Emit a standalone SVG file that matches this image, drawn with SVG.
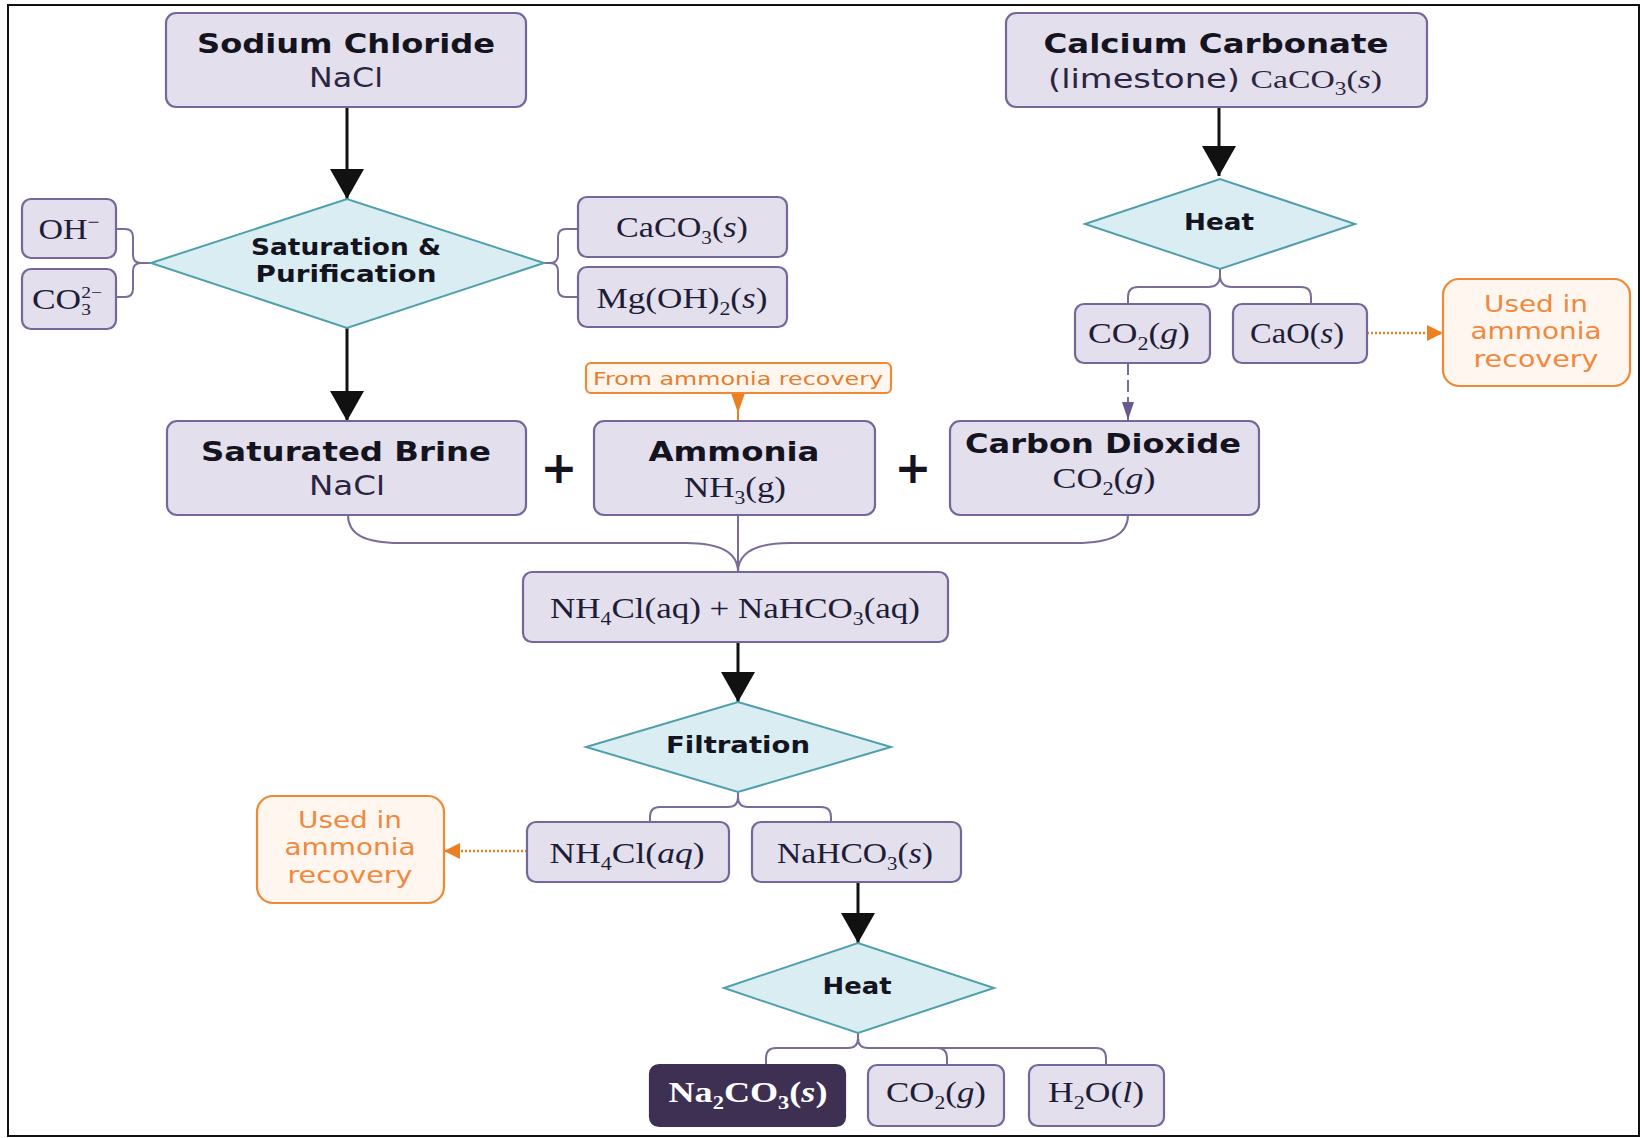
<svg xmlns="http://www.w3.org/2000/svg" width="1642" height="1138" viewBox="0 0 1642 1138">
<style>
.node{fill:#e3dfec;stroke:#76679a;stroke-width:2.2}
.dark{fill:#3e3053;stroke:#3e3053;stroke-width:2.2}
.dia{fill:#daedf2;stroke:#4fa0ad;stroke-width:2}
.orng{fill:#fff6ef;stroke:#ee8a36;stroke-width:2.2}
.ttl{font-family:"DejaVu Sans",Verdana,sans-serif;font-weight:bold;font-size:27px;fill:#141420;text-anchor:middle}
.dtl{font-family:"DejaVu Sans",Verdana,sans-serif;font-weight:bold;font-size:23px;fill:#141420;text-anchor:middle}
.sub{font-family:"DejaVu Sans",Verdana,sans-serif;font-size:26px;fill:#2a2540;text-anchor:middle}
.fm{font-family:"Liberation Serif","DejaVu Serif",serif;font-size:29px;fill:#1e1d38;text-anchor:middle}
.ot{font-family:"DejaVu Sans",Verdana,sans-serif;font-size:23px;fill:#f0883e;text-anchor:middle}
.os{font-family:"DejaVu Sans",Verdana,sans-serif;font-size:18px;fill:#e57d2b;text-anchor:middle}
.plus{font-family:"DejaVu Sans",Verdana,sans-serif;font-weight:bold;font-size:44px;fill:#141420;text-anchor:middle}
.blk{stroke:#111;stroke-width:3;fill:none}
.br{stroke:#7a6b99;stroke-width:2;fill:none}
.or{stroke:#ec7f22;stroke-width:2.5;fill:none;stroke-dasharray:2,2}
</style>
<defs>
<marker id="ab" viewBox="0 0 30 34" refX="30" refY="17" markerWidth="30" markerHeight="34" markerUnits="userSpaceOnUse" orient="auto"><path d="M0,0 L30,17 L0,34 Z" fill="#111"/></marker>
<marker id="ap" viewBox="0 0 18 12" refX="18" refY="6" markerWidth="18" markerHeight="12" markerUnits="userSpaceOnUse" orient="auto"><path d="M0,0 L18,6 L0,12 Z" fill="#6b5a8e"/></marker>
<marker id="ao" viewBox="0 0 16 16" refX="16" refY="8" markerWidth="16" markerHeight="16" markerUnits="userSpaceOnUse" orient="auto"><path d="M0,0 L16,8 L0,16 Z" fill="#ec7f22"/></marker>
</defs>
<rect x="8" y="5" width="1631" height="1131" fill="#fff" stroke="#111" stroke-width="2"/>

<g id="connectors">
<line class="blk" x1="347" y1="107" x2="347" y2="199" marker-end="url(#ab)"/>
<line class="blk" x1="347" y1="328" x2="347" y2="421" marker-end="url(#ab)"/>
<line class="blk" x1="1219" y1="107" x2="1219" y2="176" marker-end="url(#ab)"/>
<line class="blk" x1="738" y1="642" x2="738" y2="702" marker-end="url(#ab)"/>
<line class="blk" x1="858" y1="882" x2="858" y2="943" marker-end="url(#ab)"/>
<path class="br" d="M116,229 H125 Q133,229 133,237 V255 Q133,263 141,263 H151 M141,263 Q133,263 133,271 V289 Q133,297 125,297 H116"/>
<path class="br" d="M544,263 H550 Q558,263 558,255 V237 Q558,229 566,229 H578 M550,263 Q558,263 558,271 V289 Q558,297 566,297 H578"/>
<path class="br" d="M1220,269 V275 Q1220,287 1208,287 H1138 Q1128,287 1128,297 V304 M1220,275 Q1220,287 1232,287 H1301 Q1311,287 1311,297 V304"/>
<path class="br" d="M738,792 V797 Q738,807 728,807 H660 Q650,807 650,817 V822 M738,797 Q738,807 748,807 H821 Q831,807 831,817 V822"/>
<path class="br" d="M858,1033 V1038 Q858,1048 848,1048 H776 Q766,1048 766,1058 V1065 M858,1038 Q858,1048 868,1048 H1096 Q1106,1048 1106,1058 V1065 M937,1048 Q947,1048 947,1058 V1065"/>
<path class="br" d="M348,515 C348,534 364,543 400,543 H686 C720,543 738,552 738,572 M738,515 V572 M1128,515 C1128,534 1112,543 1076,543 H790 C756,543 738,552 738,572"/>
<line class="br" x1="1128" y1="363" x2="1128" y2="420" stroke-dasharray="12,5" marker-end="url(#ap)"/>
<line class="or" x1="1367" y1="333" x2="1443" y2="333" marker-end="url(#ao)"/>
<line class="or" x1="527" y1="851" x2="444" y2="851" marker-end="url(#ao)"/>
<line x1="738" y1="393" x2="738" y2="421" stroke="#ec7f22" stroke-width="2"/>
<path d="M731,393 L745,393 L738,413 Z" fill="#ec7f22"/>
</g>

<g id="sodium-chloride">
<rect class="node" x="166" y="13" width="360" height="94" rx="10"/>
<text class="ttl" x="346" y="53" textLength="298" lengthAdjust="spacingAndGlyphs">Sodium  Chloride</text>
<text class="sub" x="346" y="87" textLength="74" lengthAdjust="spacingAndGlyphs">NaCl</text>
</g>
<g id="calcium-carbonate">
<rect class="node" x="1006" y="13" width="421" height="94" rx="10"/>
<text class="ttl" x="1216" y="53" textLength="345" lengthAdjust="spacingAndGlyphs">Calcium Carbonate</text>
<text class="sub" x="1215" y="88" textLength="334" lengthAdjust="spacingAndGlyphs">(limestone) <tspan font-family="Liberation Serif,serif">CaCO<tspan font-size="18" dy="7">3</tspan><tspan dy="-7">(</tspan><tspan font-style="italic">s</tspan>)</tspan></text>
</g>
<g id="oh">
<rect class="node" x="22" y="199" width="94" height="59" rx="9"/>
<text class="fm" x="69" y="239" textLength="61" lengthAdjust="spacingAndGlyphs">OH<tspan font-size="18" dy="-11">−</tspan></text>
</g>
<g id="co3">
<rect class="node" x="22" y="269" width="94" height="60" rx="9"/>
<text class="fm" x="67" y="309" textLength="70" lengthAdjust="spacingAndGlyphs">CO<tspan font-size="16" dy="6">3</tspan><tspan font-size="16" dy="-17" dx="-8">2−</tspan></text>
</g>
<g id="saturation">
<polygon class="dia" points="151,263 347,199 544,263 347,328"/>
<text class="dtl" x="346" y="255" textLength="190" lengthAdjust="spacingAndGlyphs">Saturation &amp;</text>
<text class="dtl" x="346" y="282" textLength="181" lengthAdjust="spacingAndGlyphs">Purification</text>
</g>
<g id="caco3-s">
<rect class="node" x="578" y="197" width="209" height="60" rx="9"/>
<text class="fm" x="682" y="237" textLength="132" lengthAdjust="spacingAndGlyphs">CaCO<tspan font-size="18" dy="7">3</tspan><tspan dy="-7">(</tspan><tspan font-style="italic">s</tspan>)</text>
</g>
<g id="mgoh2">
<rect class="node" x="578" y="267" width="209" height="60" rx="9"/>
<text class="fm" x="682" y="308" textLength="171" lengthAdjust="spacingAndGlyphs">Mg(OH)<tspan font-size="18" dy="7">2</tspan><tspan dy="-7">(</tspan><tspan font-style="italic">s</tspan>)</text>
</g>
<g id="heat-1">
<polygon class="dia" points="1085,224 1220,179 1355,224 1220,269"/>
<text class="dtl" x="1219" y="230" textLength="70" lengthAdjust="spacingAndGlyphs">Heat</text>
</g>
<g id="co2-g-1">
<rect class="node" x="1075" y="304" width="135" height="59" rx="9"/>
<text class="fm" x="1139" y="343" textLength="102" lengthAdjust="spacingAndGlyphs">CO<tspan font-size="18" dy="7">2</tspan><tspan dy="-7">(</tspan><tspan font-style="italic">g</tspan>)</text>
</g>
<g id="cao">
<rect class="node" x="1233" y="304" width="134" height="59" rx="9"/>
<text class="fm" x="1297" y="343" textLength="94" lengthAdjust="spacingAndGlyphs">CaO(<tspan font-style="italic">s</tspan>)</text>
</g>
<g id="used-1">
<rect class="orng" x="1443" y="279" width="187" height="107" rx="16"/>
<text class="ot" x="1536" y="312" textLength="104" lengthAdjust="spacingAndGlyphs">Used in</text>
<text class="ot" x="1536" y="339" textLength="131" lengthAdjust="spacingAndGlyphs">ammonia</text>
<text class="ot" x="1536" y="367" textLength="125" lengthAdjust="spacingAndGlyphs">recovery</text>
</g>
<g id="from-ammonia">
<rect class="orng" x="586" y="363" width="305" height="30" rx="5"/>
<text class="os" x="738" y="385" textLength="290" lengthAdjust="spacingAndGlyphs">From ammonia recovery</text>
</g>
<g id="brine">
<rect class="node" x="167" y="421" width="359" height="94" rx="10"/>
<text class="ttl" x="346" y="461" textLength="290" lengthAdjust="spacingAndGlyphs">Saturated  Brine</text>
<text class="sub" x="347" y="495" textLength="76" lengthAdjust="spacingAndGlyphs">NaCl</text>
</g>
<text class="plus" x="559" y="483">+</text>
<g id="ammonia">
<rect class="node" x="594" y="421" width="281" height="94" rx="10"/>
<text class="ttl" x="734" y="461" textLength="171" lengthAdjust="spacingAndGlyphs">Ammonia</text>
<text class="fm" x="735" y="497" textLength="102" lengthAdjust="spacingAndGlyphs">NH<tspan font-size="18" dy="7">3</tspan><tspan dy="-7">(g)</tspan></text>
</g>
<text class="plus" x="913" y="483">+</text>
<g id="carbon-dioxide">
<rect class="node" x="950" y="421" width="309" height="94" rx="10"/>
<text class="ttl" x="1103" y="453" textLength="276" lengthAdjust="spacingAndGlyphs">Carbon Dioxide</text>
<text class="fm" x="1104" y="488" textLength="103" lengthAdjust="spacingAndGlyphs">CO<tspan font-size="18" dy="7">2</tspan><tspan dy="-7">(</tspan><tspan font-style="italic">g</tspan>)</text>
</g>
<g id="mixture">
<rect class="node" x="523" y="572" width="425" height="70" rx="9"/>
<text class="fm" x="735" y="618" textLength="370" lengthAdjust="spacingAndGlyphs">NH<tspan font-size="18" dy="7">4</tspan><tspan dy="-7">Cl(aq) + NaHCO</tspan><tspan font-size="18" dy="7">3</tspan><tspan dy="-7">(aq)</tspan></text>
</g>
<g id="filtration">
<polygon class="dia" points="586,747 738,702 891,747 738,792"/>
<text class="dtl" x="738" y="753" textLength="144" lengthAdjust="spacingAndGlyphs">Filtration</text>
</g>
<g id="used-2">
<rect class="orng" x="257" y="796" width="187" height="107" rx="16"/>
<text class="ot" x="350" y="828" textLength="104" lengthAdjust="spacingAndGlyphs">Used in</text>
<text class="ot" x="350" y="855" textLength="131" lengthAdjust="spacingAndGlyphs">ammonia</text>
<text class="ot" x="350" y="883" textLength="125" lengthAdjust="spacingAndGlyphs">recovery</text>
</g>
<g id="nh4cl-aq">
<rect class="node" x="527" y="822" width="202" height="60" rx="9"/>
<text class="fm" x="627" y="863" textLength="155" lengthAdjust="spacingAndGlyphs">NH<tspan font-size="18" dy="7">4</tspan><tspan dy="-7">Cl(</tspan><tspan font-style="italic">aq</tspan>)</text>
</g>
<g id="nahco3-s">
<rect class="node" x="752" y="822" width="209" height="60" rx="9"/>
<text class="fm" x="855" y="863" textLength="156" lengthAdjust="spacingAndGlyphs">NaHCO<tspan font-size="18" dy="7">3</tspan><tspan dy="-7">(</tspan><tspan font-style="italic">s</tspan>)</text>
</g>
<g id="heat-2">
<polygon class="dia" points="724,988 858,943 994,988 858,1033"/>
<text class="dtl" x="857" y="994" textLength="69" lengthAdjust="spacingAndGlyphs">Heat</text>
</g>
<g id="na2co3">
<rect class="dark" x="650" y="1065" width="195" height="61" rx="9"/>
<text class="fm" x="748" y="1102" style="fill:#fff" font-weight="bold" textLength="159" lengthAdjust="spacingAndGlyphs">Na<tspan font-size="18" dy="7">2</tspan><tspan dy="-7">CO</tspan><tspan font-size="18" dy="7">3</tspan><tspan dy="-7">(</tspan><tspan font-style="italic">s</tspan>)</text>
</g>
<g id="co2-g-2">
<rect class="node" x="868" y="1065" width="136" height="61" rx="9"/>
<text class="fm" x="936" y="1102" textLength="100" lengthAdjust="spacingAndGlyphs">CO<tspan font-size="18" dy="7">2</tspan><tspan dy="-7">(</tspan><tspan font-style="italic">g</tspan>)</text>
</g>
<g id="h2o">
<rect class="node" x="1029" y="1065" width="135" height="61" rx="9"/>
<text class="fm" x="1096" y="1102" textLength="96" lengthAdjust="spacingAndGlyphs">H<tspan font-size="18" dy="7">2</tspan><tspan dy="-7">O(</tspan><tspan font-style="italic">l</tspan>)</text>
</g>
</svg>
